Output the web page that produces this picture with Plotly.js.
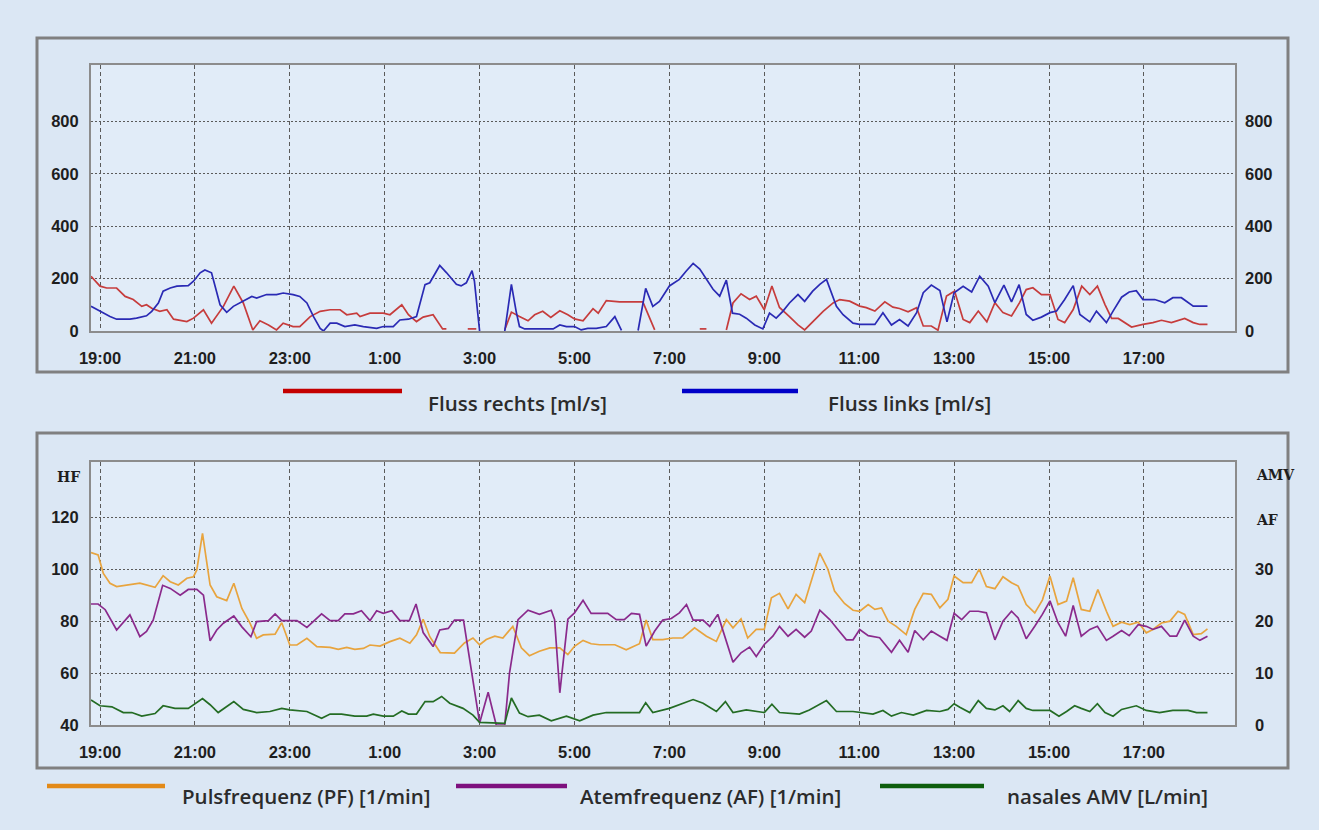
<!DOCTYPE html>
<html>
<head>
<meta charset="utf-8">
<script src="https://cdn.plot.ly/plotly-3.0.1.min.js"></script>
<style>
  html, body { margin: 0; padding: 0; background: #dbe7f4; }
  #chart { width: 1319px; height: 830px; }
</style>
</head>
<body>
<div id="chart"></div>
<script>
// ---- axis ticks (hours counted from midnight of the first day) ----
const tickHours  = [19, 21, 23, 25, 27, 29, 31, 33, 35, 37, 39, 41];
const tickLabels = ["19:00","21:00","23:00","1:00","3:00","5:00","7:00","9:00","11:00","13:00","15:00","17:00"];
const flowTicks  = [0, 200, 400, 600, 800];
const hfTicks    = [40, 60, 80, 100, 120];
const afTicks    = [0, 10, 20, 30];

// ---- series names ----
const flowNames  = ["Fluss rechts [ml/s]", "Fluss links [ml/s]"];
const vitalNames = ["Pulsfrequenz (PF) [1/min]", "Atemfrequenz (AF) [1/min]", "nasales AMV [L/min]"];

// ---- Fluss rechts (ml/s) ----
const rechtsT = [18.81,19.0,19.14,19.35,19.53,19.7,19.88,19.98,20.09,20.26,20.41,20.55,20.83,20.97,21.18,21.35,21.6,21.82,22.02,22.22,22.37,22.55,22.72,22.86,23.07,23.21,23.43,23.64,23.85,24.06,24.2,24.41,24.48,24.69,24.97,25.11,25.36,25.5,25.67,25.81,26.02,26.22,26.3,26.35,26.75,26.93,27.0,27.53,27.67,27.84,28.02,28.16,28.33,28.5,28.69,28.86,29.0,29.18,29.39,29.5,29.67,29.95,30.44,30.69,30.75,31.64,31.78,31.85,32.2,32.34,32.51,32.69,32.83,33.0,33.16,33.32,33.53,33.71,33.85,34.02,34.24,34.45,34.59,34.8,35.01,35.15,35.33,35.54,35.71,35.85,36.03,36.21,36.35,36.52,36.66,36.84,37.01,37.19,37.33,37.51,37.69,37.86,38.03,38.21,38.38,38.52,38.66,38.84,39.02,39.19,39.33,39.51,39.69,39.86,40.02,40.18,40.32,40.46,40.6,40.74,40.98,41.19,41.37,41.58,41.86,42.04,42.18,42.34];
const rechtsV = [209,171,164,164,132,120,94,100,87,75,81,45,36,49,81,30,94,171,107,4,39,23,4,30,17,17,55,75,81,81,62,68,55,68,68,62,100,62,36,53,62,8,8,null,8,8,null,5,72,55,39,62,75,52,77,62,46,39,85,68,116,111,111,4,null,8,8,null,4,107,142,120,133,81,172,90,55,23,4,36,75,107,120,114,95,89,76,111,91,86,73,89,19,19,3,133,152,44,32,76,35,108,70,57,108,158,165,139,139,44,32,82,171,139,171,101,48,48,32,15,25,32,41,32,48,32,25,25];

// ---- Fluss links (ml/s) ----
const linksT = [18.81,19.0,19.21,19.35,19.63,19.77,19.98,20.09,20.23,20.33,20.48,20.62,20.86,20.97,21.11,21.21,21.35,21.53,21.67,21.81,22.02,22.2,22.3,22.51,22.72,22.86,23.07,23.21,23.36,23.5,23.64,23.71,23.85,23.99,24.16,24.37,24.55,24.83,24.97,25.18,25.32,25.5,25.67,25.85,25.95,26.16,26.3,26.51,26.61,26.72,26.84,26.89,27.0,27.2,27.53,27.67,27.77,27.84,27.95,28.26,28.55,28.69,28.83,29.0,29.14,29.28,29.46,29.67,29.85,29.99,30.1,30.34,30.5,30.65,30.79,31.0,31.21,31.36,31.5,31.64,31.78,31.92,32.06,32.2,32.33,32.48,32.62,32.8,32.97,33.11,33.25,33.39,33.53,33.71,33.85,34.02,34.17,34.31,34.52,34.66,34.87,35.01,35.33,35.5,35.68,35.85,36.03,36.21,36.35,36.52,36.7,36.85,37.0,37.19,37.37,37.54,37.72,37.86,38.05,38.21,38.37,38.52,38.66,38.84,39.02,39.16,39.33,39.51,39.65,39.86,40.0,40.21,40.35,40.53,40.69,40.84,40.98,41.23,41.44,41.61,41.79,42.04,42.34];
const linksV = [94,75,55,45,45,49,58,75,107,152,164,171,173,190,222,233,222,100,71,94,113,132,126,139,139,145,139,132,107,55,10,0,30,30,17,23,17,10,17,17,42,45,55,177,184,250,223,178,172,184,230,191,0,null,0,178,75,17,8,8,8,23,17,17,4,10,10,17,55,2,null,2,163,94,113,172,197,230,258,236,197,159,133,194,68,64,49,23,8,68,49,75,107,139,113,152,178,197,94,62,30,25,25,70,23,44,19,70,146,175,154,35,146,171,149,209,171,108,175,111,177,63,41,53,70,76,120,173,63,35,76,32,76,129,149,154,120,120,108,127,127,95,95];

// ---- Pulsfrequenz (left axis, 1/min) ----
const pfT = [18.81,18.96,19.07,19.21,19.35,19.63,19.84,20.16,20.33,20.48,20.65,20.83,20.97,21.04,21.16,21.32,21.46,21.67,21.82,21.99,22.16,22.3,22.44,22.69,22.83,23.0,23.15,23.36,23.57,23.85,24.02,24.2,24.37,24.55,24.69,24.9,25.11,25.32,25.53,25.67,25.81,25.95,26.17,26.47,26.68,26.86,27.0,27.14,27.32,27.49,27.7,27.88,28.05,28.26,28.48,28.69,28.86,29.0,29.18,29.35,29.53,29.85,30.09,30.37,30.51,30.65,30.86,31.07,31.28,31.53,31.78,31.99,32.2,32.34,32.51,32.65,32.83,33.0,33.15,33.32,33.5,33.67,33.85,34.17,34.34,34.48,34.69,34.87,35.01,35.19,35.33,35.47,35.61,35.78,35.99,36.17,36.35,36.52,36.7,36.87,37.0,37.19,37.37,37.53,37.68,37.86,38.03,38.21,38.35,38.52,38.7,38.86,39.02,39.19,39.37,39.51,39.68,39.86,40.03,40.21,40.35,40.53,40.7,40.88,41.05,41.19,41.37,41.55,41.72,41.86,42.04,42.21,42.34];
const pfV = [106.4,105.5,98.4,94.6,93.3,93.9,94.6,93.0,97.5,95.2,93.9,96.5,97.1,99.7,113.8,93.9,89.4,87.9,94.6,84.9,79.2,73.4,74.7,75.0,79.4,70.8,70.8,73.4,70.2,69.9,69.1,69.9,69.1,69.5,70.8,70.4,72.1,73.4,71.5,74.7,80.7,74.0,67.9,67.7,71.6,73.5,70.9,72.9,74.2,73.5,78.0,69.7,66.7,68.4,69.7,69.7,67.1,70.3,72.6,71.3,70.9,70.9,69.0,71.3,80.4,72.9,72.9,73.5,73.5,77.4,74.2,72.2,80.6,77.4,80.9,73.5,76.8,76.8,89.0,90.7,84.7,90.3,87.1,106.2,100.0,91.6,86.8,84.2,83.8,86.4,84.5,85.1,80.0,78.0,74.8,84.5,90.7,90.3,85.1,88.4,97.4,94.8,94.8,100.0,93.3,92.5,97.1,94.8,93.5,86.4,83.2,88.1,97.4,86.4,87.7,96.7,84.5,83.8,92.2,83.8,78.0,79.6,78.7,79.6,75.5,76.8,79.3,80.0,83.8,82.6,74.8,75.2,77.0];

// ---- Atemfrequenz (right axis, 1/min) ----
const afT = [18.81,18.96,19.11,19.35,19.63,19.84,19.98,20.12,20.32,20.48,20.69,20.86,21.04,21.18,21.32,21.46,21.6,21.82,21.99,22.18,22.3,22.55,22.69,22.83,23.15,23.36,23.67,23.85,24.02,24.16,24.34,24.51,24.69,24.83,24.97,25.15,25.32,25.52,25.66,25.81,26.02,26.16,26.34,26.47,26.66,27.0,27.18,27.35,27.53,27.63,27.81,28.02,28.26,28.51,28.58,28.69,28.86,29.0,29.18,29.35,29.7,29.88,30.05,30.2,30.37,30.51,30.69,30.86,31.04,31.21,31.36,31.5,31.71,31.85,32.02,32.34,32.51,32.69,32.83,33.0,33.18,33.32,33.5,33.67,33.85,33.99,34.17,34.38,34.55,34.73,34.87,35.01,35.19,35.43,35.68,35.85,36.03,36.17,36.35,36.52,36.7,36.85,37.0,37.16,37.33,37.51,37.68,37.86,38.03,38.21,38.35,38.52,38.7,38.86,39.02,39.19,39.35,39.51,39.68,39.86,40.02,40.21,40.35,40.53,40.69,40.88,41.05,41.19,41.37,41.55,41.69,41.86,42.04,42.18,42.34];
const afV = [23.3,23.3,22.2,18.3,21.2,17.0,18.0,20.2,26.9,26.3,25.0,26.1,26.1,25.0,16.2,18.3,19.6,21.0,18.9,17.0,19.9,20.1,21.4,20.1,20.1,18.8,21.4,20.1,20.1,21.4,21.4,22.0,20.1,22.0,21.5,22.0,20.1,20.1,23.3,17.8,15.1,18.3,18.6,20.2,20.2,0.4,6.3,0,0,10,20.3,22.1,21.3,22.1,20.3,6.2,20.4,21.6,24.0,21.5,21.5,20.3,20.3,21.5,21.3,15.2,18.1,20.2,20.5,21.6,23.2,20.2,20.2,19.0,21.3,12.1,13.9,15.0,13.2,15.5,17.1,19.0,17.1,18.4,16.9,18.1,22.1,20.3,18.4,16.4,16.4,18.4,17.2,16.8,14.0,16.3,14.0,18.2,16.4,18.1,17.1,16.3,21.5,20.3,21.9,21.9,21.6,16.4,20.0,21.9,20.6,16.6,19.0,21.3,23.9,19.7,17.1,23.0,17.1,18.4,19.0,16.3,17.1,18.2,17.2,19.3,19.0,18.4,19.0,17.1,17.1,20.2,17.1,16.3,17.1];

// ---- nasales AMV (right axis, L/min) ----
const amvT = [18.81,19.0,19.25,19.49,19.67,19.88,20.16,20.33,20.58,20.86,21.16,21.32,21.49,21.82,22.02,22.3,22.58,22.83,23.0,23.36,23.67,23.85,24.09,24.37,24.62,24.76,24.97,25.18,25.36,25.5,25.67,25.85,26.02,26.2,26.37,26.65,26.86,27.0,27.53,27.67,27.84,28.02,28.26,28.51,28.83,29.11,29.39,29.67,30.09,30.37,30.5,30.65,31.0,31.21,31.5,31.71,31.99,32.18,32.34,32.62,33.0,33.16,33.32,33.74,33.95,34.31,34.52,34.87,35.01,35.29,35.5,35.68,35.89,36.14,36.42,36.7,36.87,37.0,37.12,37.33,37.51,37.68,37.86,38.03,38.17,38.35,38.52,38.66,39.02,39.21,39.37,39.54,39.68,39.86,40.02,40.18,40.35,40.53,40.84,41.05,41.33,41.61,41.93,42.11,42.34];
const amvV = [4.8,3.7,3.5,2.4,2.4,1.7,2.2,3.7,3.2,3.2,5.1,3.9,2.4,4.5,3.0,2.4,2.6,3.2,2.9,2.6,1.3,2.1,2.1,1.7,1.7,2.1,1.7,1.7,2.7,2.1,2.1,4.5,4.5,5.5,4.2,3.2,1.9,0.5,0.3,5.2,2.3,1.6,1.9,0.8,1.7,0.8,1.9,2.4,2.4,2.4,4.3,2.4,3.2,3.9,4.9,4.2,2.6,4.5,2.4,2.9,2.4,4.0,2.4,2.1,2.9,4.7,2.6,2.6,2.4,2.1,2.8,1.7,2.4,1.9,2.8,2.6,3.0,4.1,3.4,2.4,4.7,3.2,2.9,3.7,2.6,4.7,3.2,2.8,2.8,1.7,2.6,3.7,3.2,2.6,4.1,2.4,1.7,3.0,3.7,2.8,2.4,2.8,2.8,2.4,2.4];

// ---- colours ----
const traceColors  = { rechts: "#c63c3c", links: "#2a2ab4", pf: "#e8a43e", af: "#8a2a8c", amv: "#246c24" };
const legendColors = { rechts: "#c40000", links: "#0000c8", pf: "#e38a17", af: "#7e107e", amv: "#0d5e0d" };

// ---- geometry helpers (pixels -> paper) ----
const W = 1319, H = 830;
const px = v => v / W;
const py = v => 1 - v / H;

const lineW = 1.7;
const traces = [
  { x: rechtsT, y: rechtsV, name: flowNames[0], type: "scatter", mode: "lines",
    line: { color: traceColors.rechts, width: lineW }, xaxis: "x", yaxis: "y", connectgaps: false },
  { x: linksT, y: linksV, name: flowNames[1], type: "scatter", mode: "lines",
    line: { color: traceColors.links, width: lineW }, xaxis: "x", yaxis: "y3", connectgaps: false },
  { x: pfT, y: pfV, name: vitalNames[0], type: "scatter", mode: "lines",
    line: { color: traceColors.pf, width: lineW }, xaxis: "x2", yaxis: "y2" },
  { x: afT, y: afV, name: vitalNames[1], type: "scatter", mode: "lines",
    line: { color: traceColors.af, width: lineW }, xaxis: "x2", yaxis: "y4" },
  { x: amvT, y: amvV, name: vitalNames[2], type: "scatter", mode: "lines",
    line: { color: traceColors.amv, width: lineW }, xaxis: "x2", yaxis: "y4" }
];

const tickFont = { family: "Liberation Sans, Arial, sans-serif", size: 16.5, color: "#1e1e1e", weight: "bold" };
const frameColor = "#8c8c8c";
const xDomain = [px(91), px(1235)];
const xRange = [18.81, 42.92];

const xCommon = {
  domain: xDomain, range: xRange, tickmode: "array", tickvals: tickHours, ticktext: tickLabels,
  showgrid: true, gridcolor: "#5a5a5a", gridwidth: 1, griddash: "4px,3px",
  showline: true, mirror: true, linecolor: frameColor, linewidth: 2,
  zeroline: false, ticks: "", tickfont: tickFont, ticklabelstandoff: 11, fixedrange: true
};
const yCommon = {
  showgrid: true, gridcolor: "#5a5a5a", gridwidth: 1, griddash: "2px,2px",
  showline: true, mirror: true, linecolor: frameColor, linewidth: 2,
  zeroline: false, ticks: "", tickfont: tickFont, tickmode: "array", fixedrange: true
};

const layout = {
  width: W, height: H,
  margin: { l: 0, r: 0, t: 0, b: 0 },
  paper_bgcolor: "#dbe7f4",
  plot_bgcolor: "#e1ecf8",
  showlegend: false,
  xaxis:  Object.assign({}, xCommon, { anchor: "y" }),
  xaxis2: Object.assign({}, xCommon, { anchor: "y2" }),
  yaxis:  Object.assign({}, yCommon, { domain: [py(331), py(65)], range: [0, 1015], tickvals: flowTicks,
            anchor: "x", ticklabelstandoff: 7 }),
  yaxis3: Object.assign({}, yCommon, { overlaying: "y", side: "right", anchor: "x", range: [0, 1015],
            tickvals: flowTicks, showgrid: false, showline: false, ticklabelstandoff: 9 }),
  yaxis2: Object.assign({}, yCommon, { domain: [py(725), py(461.7)], range: [40, 141.4], tickvals: hfTicks,
            anchor: "x2", ticklabelstandoff: 7 }),
  yaxis4: Object.assign({}, yCommon, { overlaying: "y2", side: "right", anchor: "x2", range: [0, 50.7],
            tickvals: afTicks, showgrid: false, showline: false, ticklabelstandoff: 19 }),
  shapes: [],
  annotations: []
};

// panel frames
[[37, 38, 1288, 372], [37, 433, 1288, 768]].forEach(([x0, y0, x1, y1]) => {
  layout.shapes.push({ type: "rect", xref: "paper", yref: "paper", x0: px(x0), x1: px(x1), y0: py(y1), y1: py(y0),
    line: { color: "#808080", width: 3 }, fillcolor: "rgba(0,0,0,0)", layer: "below" });
});

// legend swatches + texts
const legendFont = { family: "Open Sans, sans-serif", size: 20.5, color: "#2b2b2b", weight: 600 };
const legendItems = [
  { name: flowNames[0],  color: legendColors.rechts, x0: 283, x1: 402, ly: 391, tx: 426, ty: 403 },
  { name: flowNames[1],  color: legendColors.links,  x0: 682, x1: 798, ly: 391, tx: 826, ty: 403 },
  { name: vitalNames[0], color: legendColors.pf,     x0: 47,  x1: 165, ly: 786, tx: 180, ty: 796 },
  { name: vitalNames[1], color: legendColors.af,     x0: 456, x1: 567, ly: 786, tx: 578, ty: 796 },
  { name: vitalNames[2], color: legendColors.amv,    x0: 880, x1: 984, ly: 786, tx: 1005, ty: 796 }
];
legendItems.forEach(it => {
  layout.shapes.push({ type: "line", xref: "paper", yref: "paper", x0: px(it.x0), x1: px(it.x1),
    y0: py(it.ly), y1: py(it.ly), line: { color: it.color, width: 4.5 } });
  layout.annotations.push({ xref: "paper", yref: "paper", x: px(it.tx), y: py(it.ty), xanchor: "left",
    yanchor: "middle", text: it.name, showarrow: false, font: legendFont });
});

// axis caption labels (HF / AMV / AF)
const capFont = { family: "DejaVu Serif, Liberation Serif, serif", size: 14, color: "#1e1e1e", weight: "bold" };
[["HF", 82, 477, "right"], ["AMV", 1254, 475, "left"], ["AF", 1254, 520, "left"]].forEach(([t, x, y, a]) => {
  layout.annotations.push({ xref: "paper", yref: "paper", x: px(x), y: py(y), xanchor: a, yanchor: "middle",
    text: t, showarrow: false, font: capFont });
});

Plotly.newPlot("chart", traces, layout, { staticPlot: true, displayModeBar: false });
</script>
</body>
</html>
